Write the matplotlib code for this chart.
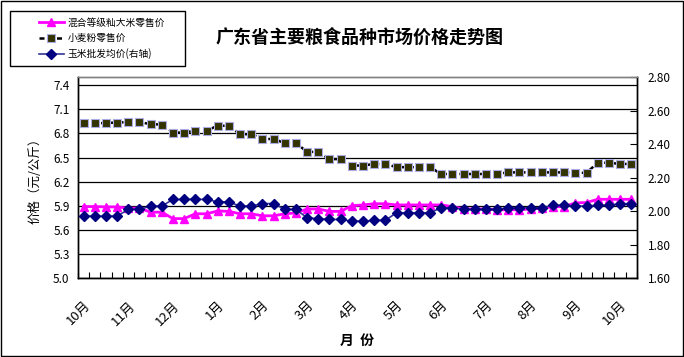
import matplotlib
matplotlib.use("Agg")
import matplotlib.pyplot as plt
from matplotlib.patches import Rectangle
import numpy as np

plt.rcParams['font.family'] = ['Noto Sans CJK SC', 'DejaVu Sans']

months = ['10月', '11月', '12月', '1月', '2月', '3月', '4月', '5月',
          '6月', '7月', '8月', '9月', '10月']

# 混合等级籼大米零售价 (left axis)
rice = [5.89, 5.89, 5.885, 5.885, 5.87, 5.87, 5.82, 5.82, 5.74, 5.74,
        5.80, 5.80, 5.835, 5.83, 5.80, 5.80, 5.775, 5.775, 5.80, 5.81,
        5.86, 5.86, 5.83, 5.83, 5.90, 5.91, 5.925, 5.925, 5.91, 5.91,
        5.91, 5.91, 5.91, 5.89, 5.86, 5.86, 5.86, 5.85, 5.85, 5.85,
        5.86, 5.87, 5.885, 5.89, 5.935, 5.94, 5.98, 5.98, 5.98, 5.98]

# 小麦粉零售价 (left axis)
wheat = [6.925, 6.925, 6.93, 6.935, 6.94, 6.94, 6.915, 6.91, 6.81, 6.81,
         6.835, 6.835, 6.895, 6.895, 6.79, 6.79, 6.73, 6.73, 6.68, 6.68,
         6.57, 6.57, 6.48, 6.48, 6.40, 6.40, 6.42, 6.42, 6.38, 6.38,
         6.38, 6.38, 6.295, 6.295, 6.295, 6.295, 6.295, 6.295, 6.315, 6.315,
         6.315, 6.315, 6.315, 6.315, 6.31, 6.31, 6.435, 6.435, 6.42, 6.42]

# 玉米批发均价 (right axis)
corn = [1.97, 1.97, 1.97, 1.97, 2.01, 2.01, 2.03, 2.03, 2.07, 2.07,
        2.07, 2.07, 2.055, 2.055, 2.03, 2.03, 2.045, 2.045, 2.01, 2.01,
        1.96, 1.955, 1.95, 1.95, 1.94, 1.94, 1.945, 1.945, 1.99, 1.99,
        1.99, 1.99, 2.02, 2.02, 2.01, 2.01, 2.01, 2.01, 2.02, 2.02,
        2.02, 2.02, 2.035, 2.035, 2.03, 2.03, 2.035, 2.035, 2.045, 2.045]

x = np.arange(len(rice))

fig = plt.figure(figsize=(6.84, 3.57), dpi=100)
ax = fig.add_axes([0.114, 0.221, 0.817, 0.563])
ax2 = ax.twinx()

l1, = ax.plot(x, rice, color='#FF00FF', lw=2, marker='^', ms=6,
              mfc='#FF00FF', mec='#FF00FF', zorder=3)
l2, = ax.plot(x, wheat, color='black', lw=1.8, ls=(0, (2, 1.5)), marker='s', ms=6,
              mfc='#333300', mec='#AAAAE6', mew=0.8, zorder=3)
l3, = ax2.plot(x, corn, color='#333399', lw=1.2, marker='D', ms=5,
               mfc='#000080', mec='#000080', zorder=3)

ax.set_xlim(-0.5, len(x) - 0.5)
ax.set_ylim(5.0, 7.5)
ax.set_yticks(np.arange(5.0, 7.41, 0.3))
ax.set_yticklabels(['%.1f' % v for v in np.arange(5.0, 7.41, 0.3)], fontsize=8.5)
ax.yaxis.grid(True, color='black', lw=0.9)
ax.set_axisbelow(True)
ax.tick_params(axis='y', length=0, pad=6)

ax.set_xticks(np.arange(0, len(x), 4))
ax.set_xticklabels(months, rotation=45, ha='right', va='top',
                   rotation_mode='anchor', fontsize=9.5)
ax.set_xticks(np.arange(-0.5, len(x), 1), minor=True)
ax.tick_params(axis='x', which='major', length=0, pad=15)
ax.tick_params(axis='x', which='minor', direction='in', length=4, width=0.8)

ax2.set_ylim(1.6, 2.8)
ax2.set_yticks(np.arange(1.6, 2.81, 0.2))
ax2.set_yticklabels(['%.2f' % v for v in np.arange(1.6, 2.81, 0.2)], fontsize=8.5)
ax2.tick_params(axis='y', direction='in', length=5, width=0.8, pad=8)

for a in (ax, ax2):
    for s in a.spines.values():
        s.set_color('black')
        s.set_linewidth(1)
    a.spines['top'].set_color('#808080')

ax.set_ylabel('价格（元/公斤）', fontsize=9, labelpad=8)
ax.set_xlabel('月  份', fontsize=10, fontweight='bold', labelpad=4)

fig.text(0.525, 0.895, '广东省主要粮食品种市场价格走势图', ha='center', va='center',
         fontsize=13, fontweight='bold')

# legend without its own frame, boxed by a rectangle like the original
leg = fig.legend([l1, l2, l3], ['混合等级籼大米零售价', '小麦粉零售价', '玉米批发均价(右轴)'],
                 loc='upper left', bbox_to_anchor=(0.045, 0.972), fontsize=7,
                 frameon=False, handlelength=2.6, borderpad=0.3,
                 labelspacing=0.55, handletextpad=0.4)
fig.patches.append(Rectangle((10 / 684, 1 - 66 / 357), 175 / 684, 55 / 357,
                             transform=fig.transFigure, fill=False,
                             edgecolor='black', lw=1))

fig.patches.append(Rectangle((0.001, 0.002), 0.997, 0.995, transform=fig.transFigure,
                             fill=False, edgecolor='black', lw=1))

fig.savefig('out.png', dpi=100)
